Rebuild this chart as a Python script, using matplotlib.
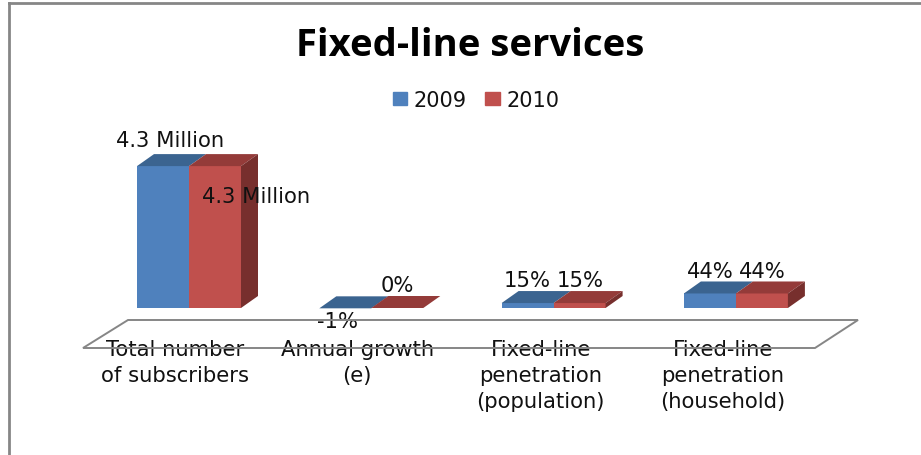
import matplotlib
matplotlib.use("Agg")
import matplotlib.pyplot as plt
from matplotlib.lines import Line2D
from matplotlib.patches import Polygon

categories = [
    "Total number\nof subscribers",
    "Annual growth\n(e)",
    "Fixed-line\npenetration\n(population)",
    "Fixed-line\npenetration\n(household)",
]
values_2009 = [4.3, -0.01, 0.15, 0.44]
values_2010 = [4.3, 0.0, 0.15, 0.44]
labels_2009 = ["4.3 Million", "-1%", "15%", "44%"]
labels_2010 = ["4.3 Million", "0%", "15%", "44%"]

W, H = 921, 456
SPACING = 182.3   # pixels between category centres
UNIT = 33.0       # pixels per y unit
X0, Y0 = 189, 309 # where category 0 / value 0 land, from top left
BAR_W = 52 / SPACING
DX, DY = 17 / SPACING, 12 / UNIT  # 3d depth of the bars

BLUE, BLUE_TOP = "#4F81BD", "#3B6490"
RED, RED_TOP, RED_SIDE = "#C0504D", "#943B39", "#772F2D"
GRAY = "#868686"
INK = "#111111"
TEXT_SIZE = 15.2

fig = plt.figure(figsize=(W / 100, H / 100), dpi=100)
ax = fig.add_axes([0, 0, 1, 1])
ax.set_xlim(-X0 / SPACING, (W - X0) / SPACING)
ax.set_ylim(-(H - Y0) / UNIT, Y0 / UNIT)
ax.axis("off")


def px(x, y):
    return x / W, 1 - y / H


# chart frame and the floor under the bars
for xs, ys in [((9, 9), (4, 456)), ((9, 921), (4, 4))]:
    fig.add_artist(Line2D([x / W for x in xs], [1 - y / H for y in ys],
                          color=GRAY, lw=2))
floor = [px(128, 321), px(858, 321), px(815, 349), px(83, 349)]
fig.add_artist(Polygon(floor, closed=True, fill=False, edgecolor=GRAY, lw=1.4,
                       transform=fig.transFigure))


def draw_bar(x, value, front, top, side=None):
    ax.bar(x, value, BAR_W, align="edge", color=front, zorder=3)
    ax.add_patch(Polygon([(x, value), (x + BAR_W, value),
                          (x + BAR_W + DX, value + DY), (x + DX, value + DY)],
                         color=top, lw=0, zorder=4))
    if side:
        ax.add_patch(Polygon([(x + BAR_W, 0), (x + BAR_W + DX, DY),
                              (x + BAR_W + DX, value + DY), (x + BAR_W, value)],
                             color=side, lw=0, zorder=4))


for i in range(len(categories)):
    draw_bar(i - BAR_W, values_2009[i], BLUE, BLUE_TOP)
    draw_bar(i, values_2010[i], RED, RED_TOP, RED_SIDE)

# data labels, offsets in pixels from the top of each bar
offsets_2009 = [(-19, 26), (-34, -13), (-26, 23), (-26, 22)]
offsets_2010 = [(67, -30), (26, 23), (27, 23), (26, 22)]
for i in range(len(categories)):
    for vals, labs, offs in [(values_2009, labels_2009, offsets_2009),
                             (values_2010, labels_2010, offsets_2010)]:
        ax.annotate(labs[i], (i, vals[i]),
                    xytext=(offs[i][0] * 0.72, offs[i][1] * 0.72),
                    textcoords="offset points", ha="center", va="center",
                    fontsize=TEXT_SIZE, color=INK, zorder=6)

label_shift = [-14, -14, -13, -13]
for i, name in enumerate(categories):
    ax.annotate(name, (i, 0), xytext=(label_shift[i] * 0.72, -31 * 0.72),
                textcoords="offset points", ha="center", va="top",
                fontsize=TEXT_SIZE, color=INK, linespacing=1.36, zorder=6)

fig.text(470 / W, 1 - 46 / H, "Fixed-line services", ha="center", va="center",
         fontsize=27.5, fontweight="bold", color="black", family="Open Sans")

handles = [plt.Rectangle((0, 0), 1, 1, color=BLUE),
           plt.Rectangle((0, 0), 1, 1, color=RED)]
ax.legend(handles, ["2009", "2010"], ncol=2, frameon=False, fontsize=15,
          loc="center", bbox_to_anchor=(476 / W, 1 - 101 / H),
          handlelength=0.7, handleheight=0.6, handletextpad=0.3,
          columnspacing=0.9, labelcolor=INK)

fig.savefig("out.png", dpi=100)
